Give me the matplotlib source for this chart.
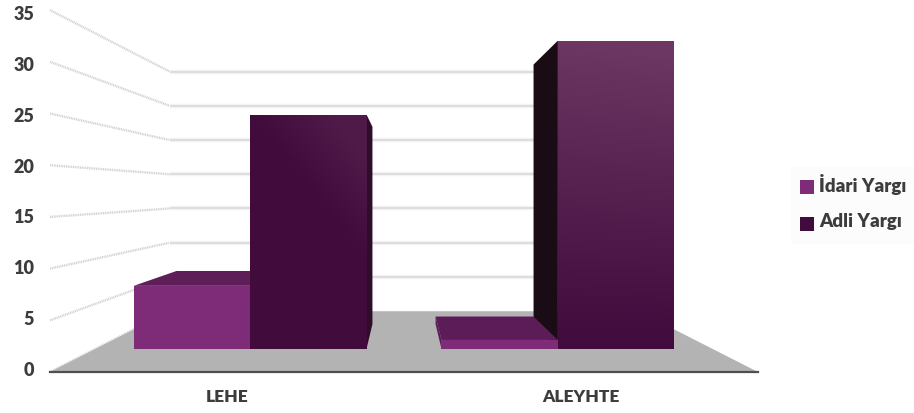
import numpy as np
import matplotlib
matplotlib.use("Agg")
import matplotlib.pyplot as plt
from matplotlib.colors import LinearSegmentedColormap
from matplotlib.patches import Polygon, Rectangle

# data
categories = ["LEHE", "ALEYHTE"]
idari = [7, 1]
adli = [26, 34.2]
ticks = [0, 5, 10, 15, 20, 25, 30, 35]
series_names = ["İdari Yargı", "Adli Yargı"]

plt.rcParams["font.family"] = ["Lato", "DejaVu Sans"]
plt.rcParams["font.weight"] = "heavy"

# perspective of the 3d box, in pixels
VP_X, VP_Y = 404, 192
FLOOR_Y = 180
UNIT = 10.34
HALF_W = 354
BACK = 0.6624
BAR_F = 0.872
BAR_B = 0.734
BAR_W = 133.5
BAR_GAP = 43


def pr(x, v, s):
    return (VP_X + x * s, VP_Y + (FLOOR_Y - v * UNIT) * s)


def face(ax, pts, color, z):
    ax.add_patch(Polygon(pts, closed=True, fc=color, ec="none", zorder=z))


def grad_face(ax, pts, colors, arr, z):
    cmap = LinearSegmentedColormap.from_list("g", colors)
    xs = [p[0] for p in pts]
    ys = [p[1] for p in pts]
    im = ax.imshow(arr, cmap=cmap, vmin=0, vmax=1, aspect="auto", zorder=z,
                   extent=(min(xs), max(xs), max(ys), min(ys)), origin="upper")
    im.set_clip_path(Polygon(pts, closed=True, transform=ax.transData))


fig = plt.figure(figsize=(9.14, 4.13), dpi=100)
ax = fig.add_axes([0, 0, 1, 1])

# floor
face(ax, [pr(-HALF_W, 0, 1), pr(HALF_W, 0, 1), pr(HALF_W, 0, BACK), pr(-HALF_W, 0, BACK)], "#b3b3b3", 1)
ax.plot(*zip(pr(-HALF_W, 0, 1), pr(HALF_W, 0, 1)), color="#4f4f4f", lw=1.6, zorder=2)

# walls
for t in ticks:
    a = pr(-HALF_W, t, 1)
    b = pr(-HALF_W, t, BACK)
    c = pr(HALF_W, t, BACK)
    if t > 0:
        ax.plot(*zip(b, c), color="#f3f3f3", lw=3.2, zorder=0.5, solid_capstyle="butt")
        ax.plot(*zip(b, c), color="#d9d9d9", lw=1.2, zorder=0.6, solid_capstyle="butt")
    ax.plot(*zip(a, b), color="#d2d2d2", lw=1.7, ls=(0, (0.45, 0.3)), zorder=0.7)
    ax.text(34, 370.5 - t * 10.17, str(t), ha="right", va="center", fontsize=13, color="#3c3c3c")

# horizontal colour ramps of the tall bars
u, w = np.meshgrid(np.linspace(0, 1, 100), np.linspace(0, 1, 200))
lehe_arr = np.clip((u - w * 1.6) * 1.5, 0, 1)
aleyhte_arr = (1 - w) ** 1.1 + 0.05 * u * (1 - w)

# LEHE
x0 = -HALF_W + BAR_GAP + 1
x1 = x0 + BAR_W
x2 = x1 + BAR_W
v1, v2 = idari[0], adli[0]
face(ax, [pr(x0, v1, BAR_F), pr(x1, v1, BAR_F), pr(x1, v1, BAR_B), pr(x0, v1, BAR_B)], "#5e1e58", 3)
face(ax, [pr(x0, 0, BAR_F), pr(x1, 0, BAR_F), pr(x1, v1, BAR_F), pr(x0, v1, BAR_F)], "#7f2c78", 4)
face(ax, [pr(x2, 0, BAR_F), pr(x2, v2, BAR_F), pr(x2, v2, BAR_B), pr(x2, 0, BAR_B)], "#2e0c2a", 3)
grad_face(ax, [pr(x1, 0, BAR_F), pr(x2, 0, BAR_F), pr(x2, v2, BAR_F), pr(x1, v2, BAR_F)],
          ["#410c3c", "#4f1a48"], lehe_arr, 5)

# ALEYHTE
x0 = BAR_GAP
x1 = x0 + BAR_W
x2 = x1 + BAR_W
v1, v2 = idari[1], adli[1]
face(ax, [pr(x1, 0, BAR_F), pr(x1, v2, BAR_F), pr(x1, v2, BAR_B), pr(x1, 0, BAR_B)], "#190c14", 3)
face(ax, [pr(x0, 0, BAR_F), pr(x0, v1, BAR_F), pr(x0, v1, BAR_B), pr(x0, 0, BAR_B)], "#5c1c58", 4)
face(ax, [pr(x0, v1, BAR_F), pr(x1, v1, BAR_F), pr(x1, v1, BAR_B), pr(x0, v1, BAR_B)], "#5c1c58", 4)
face(ax, [pr(x0, 0, BAR_F), pr(x1, 0, BAR_F), pr(x1, v1, BAR_F), pr(x0, v1, BAR_F)], "#7f2c78", 4.5)
grad_face(ax, [pr(x1, 0, BAR_F), pr(x2, 0, BAR_F), pr(x2, v2, BAR_F), pr(x1, v2, BAR_F)],
          ["#410c3d", "#6c3762"], aleyhte_arr, 5)

# category labels
for i, name in enumerate(categories):
    ax.text(VP_X + (i - 0.5) * HALF_W, 397, name, ha="center", va="center", fontsize=12.5, color="#3c3c3c")

# legend
ax.add_patch(Rectangle((791, 167), 123, 77, fc="#fcfcfc", ec="none", zorder=1))
for y, col, name in zip([186.5, 224], ["#7f2c78", "#410c3d"], series_names):
    ax.add_patch(Rectangle((800, y - 7), 14, 14, fc=col, ec="none", zorder=2))
    ax.text(819, y - 2, name, ha="left", va="center", fontsize=13.5, color="#3c3c3c", zorder=2)

ax.set_xlim(0, 914)
ax.set_ylim(413, 0)
ax.axis("off")

fig.savefig("out.png", dpi=100)
